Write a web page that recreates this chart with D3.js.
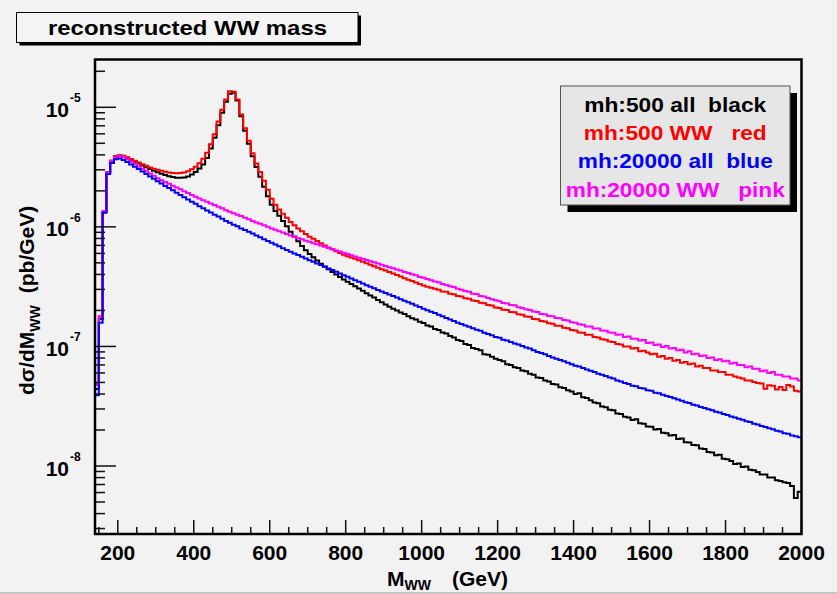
<!DOCTYPE html>
<html>
<head>
<meta charset="utf-8">
<script src="https://cdn.jsdelivr.net/npm/d3@7"></script>
<style>
  body { margin: 0; background: #f2f2f2; }
  svg { display: block; font-family: "Liberation Sans", Arial, Helvetica, sans-serif; font-weight: bold; }
</style>
</head>
<body>
<svg id="chart"></svg>
<script>
// histogram binning (GeV): 10 GeV bins from 140 to 2000
const binLow = 140;
const binWidth = 10;

// d sigma / d M_WW  (pb/GeV), one value per bin
const mh500All = [
  4.4e-8, 1.70e-7, 1.33e-6, 2.85e-6, 3.55e-6, 3.87e-6, 3.94e-6, 3.89e-6, 3.77e-6, 3.64e-6,
  3.51e-6, 3.38e-6, 3.26e-6, 3.15e-6, 3.04e-6, 2.94e-6, 2.86e-6, 2.78e-6, 2.71e-6, 2.65e-6,
  2.61e-6, 2.58e-6, 2.57e-6, 2.59e-6, 2.64e-6, 2.74e-6, 2.88e-6, 3.08e-6, 3.33e-6, 3.76e-6,
  4.52e-6, 5.56e-6, 7.08e-6, 9.0e-6, 1.11e-5, 1.30e-5, 1.32e-5, 1.14e-5, 8.41e-6, 6.38e-6,
  4.95e-6, 3.89e-6, 3.16e-6, 2.63e-6, 2.16e-6, 1.80e-6, 1.53e-6, 1.36e-6, 1.24e-6, 1.12e-6,
  1.01e-6, 9.1e-7, 8.32e-7, 7.59e-7, 6.92e-7, 6.37e-7, 5.92e-7, 5.56e-7, 5.22e-7, 4.92e-7,
  4.66e-7, 4.42e-7, 4.20e-7, 3.99e-7, 3.80e-7, 3.63e-7, 3.48e-7, 3.33e-7, 3.18e-7, 3.05e-7,
  2.92e-7, 2.79e-7, 2.67e-7, 2.56e-7, 2.45e-7, 2.34e-7, 2.24e-7, 2.15e-7, 2.07e-7, 2.00e-7,
  1.92e-7, 1.87e-7, 1.79e-7, 1.72e-7, 1.68e-7, 1.61e-7, 1.57e-7, 1.50e-7, 1.47e-7, 1.40e-7,
  1.37e-7, 1.31e-7, 1.28e-7, 1.22e-7, 1.19e-7, 1.13e-7, 1.11e-7, 1.05e-7, 1.03e-7, 9.7e-8,
  9.5e-8, 9.3e-8, 8.6e-8, 8.5e-8, 8.2e-8, 7.9e-8, 7.7e-8, 7.5e-8, 7.1e-8, 7.0e-8,
  6.7e-8, 6.6e-8, 6.3e-8, 6.2e-8, 5.9e-8, 5.8e-8, 5.5e-8, 5.45e-8, 5.2e-8, 5.1e-8,
  4.85e-8, 4.8e-8, 4.55e-8, 4.5e-8, 4.3e-8, 4.2e-8, 4.0e-8, 4.05e-8, 3.75e-8, 3.7e-8,
  3.55e-8, 3.4e-8, 3.35e-8, 3.15e-8, 3.1e-8, 2.95e-8, 2.92e-8, 2.75e-8, 2.72e-8, 2.58e-8,
  2.55e-8, 2.42e-8, 2.46e-8, 2.28e-8, 2.26e-8, 2.14e-8, 2.13e-8, 2.02e-8, 2.04e-8, 1.90e-8,
  1.88e-8, 1.80e-8, 1.82e-8, 1.68e-8, 1.70e-8, 1.58e-8, 1.57e-8, 1.50e-8, 1.49e-8, 1.40e-8,
  1.39e-8, 1.31e-8, 1.30e-8, 1.23e-8, 1.24e-8, 1.15e-8, 1.14e-8, 1.10e-8, 1.04e-8, 1.05e-8,
  9.8e-9, 9.9e-9, 9.3e-9, 9.2e-9, 8.9e-9, 8.5e-9, 8.5e-9, 8.0e-9, 8.0e-9, 7.6e-9,
  7.5e-9, 7.3e-9, 7.2e-9, 6.8e-9, 5.4e-9, 6.1e-9
];

const mh500WW = [
  4.8e-8, 1.78e-7, 1.35e-6, 2.88e-6, 3.59e-6, 3.91e-6, 3.98e-6, 3.94e-6, 3.82e-6, 3.70e-6,
  3.57e-6, 3.45e-6, 3.34e-6, 3.24e-6, 3.14e-6, 3.06e-6, 3.00e-6, 2.94e-6, 2.89e-6, 2.85e-6,
  2.82e-6, 2.81e-6, 2.82e-6, 2.85e-6, 2.92e-6, 3.03e-6, 3.18e-6, 3.40e-6, 3.72e-6, 4.17e-6,
  4.90e-6, 5.96e-6, 7.59e-6, 9.55e-6, 1.16e-5, 1.36e-5, 1.35e-5, 1.16e-5, 8.71e-6, 6.67e-6,
  5.25e-6, 4.12e-6, 3.39e-6, 2.88e-6, 2.43e-6, 2.04e-6, 1.72e-6, 1.53e-6, 1.40e-6, 1.29e-6,
  1.19e-6, 1.10e-6, 1.03e-6, 9.7e-7, 9.2e-7, 8.71e-7, 8.28e-7, 7.94e-7, 7.60e-7, 7.29e-7,
  7.00e-7, 6.73e-7, 6.49e-7, 6.25e-7, 6.04e-7, 5.85e-7, 5.69e-7, 5.55e-7, 5.41e-7, 5.27e-7,
  5.12e-7, 4.97e-7, 4.82e-7, 4.68e-7, 4.55e-7, 4.43e-7, 4.31e-7, 4.19e-7, 4.07e-7, 3.95e-7,
  3.84e-7, 3.72e-7, 3.61e-7, 3.52e-7, 3.42e-7, 3.33e-7, 3.24e-7, 3.16e-7, 3.10e-7, 3.03e-7,
  2.98e-7, 2.88e-7, 2.86e-7, 2.76e-7, 2.73e-7, 2.64e-7, 2.62e-7, 2.53e-7, 2.50e-7, 2.42e-7,
  2.40e-7, 2.32e-7, 2.30e-7, 2.22e-7, 2.20e-7, 2.12e-7, 2.10e-7, 2.03e-7, 2.02e-7, 1.94e-7,
  1.93e-7, 1.86e-7, 1.84e-7, 1.78e-7, 1.77e-7, 1.70e-7, 1.69e-7, 1.63e-7, 1.62e-7, 1.56e-7,
  1.55e-7, 1.49e-7, 1.49e-7, 1.43e-7, 1.42e-7, 1.37e-7, 1.36e-7, 1.31e-7, 1.30e-7, 1.25e-7,
  1.25e-7, 1.20e-7, 1.19e-7, 1.15e-7, 1.14e-7, 1.10e-7, 1.09e-7, 1.05e-7, 1.04e-7, 1.00e-7,
  1.00e-7, 9.6e-8, 9.7e-8, 9.1e-8, 9.2e-8, 8.9e-8, 8.6e-8, 8.7e-8, 8.2e-8, 8.3e-8,
  7.9e-8, 8.0e-8, 7.6e-8, 7.7e-8, 7.3e-8, 7.4e-8, 7.1e-8, 7.2e-8, 6.8e-8, 6.9e-8,
  6.6e-8, 6.6e-8, 6.3e-8, 6.3e-8, 6.1e-8, 6.1e-8, 5.8e-8, 5.8e-8, 5.6e-8, 5.5e-8,
  5.4e-8, 5.2e-8, 5.2e-8, 5.05e-8, 4.95e-8, 4.9e-8, 4.42e-8, 4.73e-8, 4.68e-8, 4.37e-8,
  4.57e-8, 4.32e-8, 4.76e-8, 4.62e-8, 4.27e-8, 4.19e-8
];

const mh20000All = [
  3.9e-8, 1.58e-7, 1.31e-6, 2.77e-6, 3.42e-6, 3.67e-6, 3.73e-6, 3.63e-6, 3.48e-6, 3.33e-6,
  3.18e-6, 3.04e-6, 2.90e-6, 2.77e-6, 2.64e-6, 2.52e-6, 2.41e-6, 2.30e-6, 2.20e-6, 2.11e-6,
  2.02e-6, 1.93e-6, 1.85e-6, 1.77e-6, 1.69e-6, 1.62e-6, 1.56e-6, 1.49e-6, 1.43e-6, 1.37e-6,
  1.32e-6, 1.26e-6, 1.22e-6, 1.17e-6, 1.12e-6, 1.08e-6, 1.04e-6, 1.01e-6, 9.7e-7, 9.4e-7,
  9.1e-7, 8.8e-7, 8.45e-7, 8.17e-7, 7.89e-7, 7.62e-7, 7.36e-7, 7.11e-7, 6.87e-7, 6.64e-7,
  6.41e-7, 6.19e-7, 6.00e-7, 5.81e-7, 5.62e-7, 5.44e-7, 5.27e-7, 5.11e-7, 4.94e-7, 4.79e-7,
  4.63e-7, 4.49e-7, 4.35e-7, 4.21e-7, 4.07e-7, 3.94e-7, 3.82e-7, 3.70e-7, 3.58e-7, 3.47e-7,
  3.36e-7, 3.25e-7, 3.16e-7, 3.06e-7, 2.97e-7, 2.88e-7, 2.80e-7, 2.72e-7, 2.64e-7, 2.56e-7,
  2.48e-7, 2.41e-7, 2.34e-7, 2.27e-7, 2.20e-7, 2.14e-7, 2.07e-7, 2.01e-7, 1.95e-7, 1.90e-7,
  1.84e-7, 1.79e-7, 1.73e-7, 1.68e-7, 1.63e-7, 1.58e-7, 1.54e-7, 1.50e-7, 1.46e-7, 1.42e-7,
  1.38e-7, 1.35e-7, 1.30e-7, 1.27e-7, 1.24e-7, 1.20e-7, 1.18e-7, 1.14e-7, 1.12e-7, 1.09e-7,
  1.06e-7, 1.04e-7, 1.01e-7, 9.8e-8, 9.6e-8, 9.3e-8, 9.0e-8, 8.8e-8, 8.6e-8, 8.3e-8,
  8.1e-8, 7.9e-8, 7.7e-8, 7.5e-8, 7.3e-8, 7.1e-8, 6.9e-8, 6.8e-8, 6.6e-8, 6.4e-8,
  6.25e-8, 6.1e-8, 5.9e-8, 5.8e-8, 5.65e-8, 5.5e-8, 5.4e-8, 5.2e-8, 5.1e-8, 4.95e-8,
  4.85e-8, 4.7e-8, 4.65e-8, 4.5e-8, 4.45e-8, 4.3e-8, 4.25e-8, 4.1e-8, 4.05e-8, 3.95e-8,
  3.85e-8, 3.78e-8, 3.68e-8, 3.6e-8, 3.52e-8, 3.42e-8, 3.36e-8, 3.26e-8, 3.21e-8, 3.12e-8,
  3.06e-8, 2.98e-8, 2.93e-8, 2.84e-8, 2.80e-8, 2.72e-8, 2.67e-8, 2.60e-8, 2.55e-8, 2.48e-8,
  2.44e-8, 2.37e-8, 2.33e-8, 2.26e-8, 2.22e-8, 2.16e-8, 2.12e-8, 2.07e-8, 2.03e-8, 1.97e-8,
  1.94e-8, 1.88e-8, 1.86e-8, 1.80e-8, 1.77e-8, 1.74e-8
];

const mh20000WW = [
  4.8e-8, 1.78e-7, 1.35e-6, 2.85e-6, 3.53e-6, 3.82e-6, 3.89e-6, 3.85e-6, 3.67e-6, 3.51e-6,
  3.35e-6, 3.20e-6, 3.06e-6, 2.92e-6, 2.79e-6, 2.67e-6, 2.55e-6, 2.45e-6, 2.37e-6, 2.29e-6,
  2.21e-6, 2.13e-6, 2.06e-6, 1.99e-6, 1.92e-6, 1.85e-6, 1.79e-6, 1.73e-6, 1.67e-6, 1.62e-6,
  1.57e-6, 1.52e-6, 1.47e-6, 1.43e-6, 1.38e-6, 1.34e-6, 1.30e-6, 1.26e-6, 1.23e-6, 1.19e-6,
  1.16e-6, 1.12e-6, 1.09e-6, 1.06e-6, 1.03e-6, 1.00e-6, 9.7e-7, 9.46e-7, 9.2e-7, 8.95e-7,
  8.71e-7, 8.47e-7, 8.26e-7, 8.05e-7, 7.87e-7, 7.67e-7, 7.50e-7, 7.31e-7, 7.14e-7, 6.97e-7,
  6.81e-7, 6.65e-7, 6.50e-7, 6.35e-7, 6.21e-7, 6.07e-7, 5.93e-7, 5.79e-7, 5.66e-7, 5.53e-7,
  5.41e-7, 5.28e-7, 5.16e-7, 5.05e-7, 4.93e-7, 4.82e-7, 4.71e-7, 4.60e-7, 4.50e-7, 4.40e-7,
  4.32e-7, 4.20e-7, 4.11e-7, 4.02e-7, 3.93e-7, 3.81e-7, 3.76e-7, 3.66e-7, 3.58e-7, 3.49e-7,
  3.44e-7, 3.33e-7, 3.27e-7, 3.18e-7, 3.14e-7, 3.04e-7, 2.98e-7, 2.91e-7, 2.86e-7, 2.76e-7,
  2.74e-7, 2.64e-7, 2.61e-7, 2.54e-7, 2.48e-7, 2.43e-7, 2.39e-7, 2.31e-7, 2.29e-7, 2.22e-7,
  2.21e-7, 2.13e-7, 2.10e-7, 2.05e-7, 2.02e-7, 1.96e-7, 1.94e-7, 1.87e-7, 1.86e-7, 1.80e-7,
  1.79e-7, 1.73e-7, 1.72e-7, 1.66e-7, 1.65e-7, 1.59e-7, 1.58e-7, 1.53e-7, 1.52e-7, 1.47e-7,
  1.47e-7, 1.41e-7, 1.41e-7, 1.36e-7, 1.35e-7, 1.31e-7, 1.30e-7, 1.25e-7, 1.26e-7, 1.20e-7,
  1.21e-7, 1.16e-7, 1.16e-7, 1.12e-7, 1.13e-7, 1.07e-7, 1.08e-7, 1.03e-7, 1.04e-7, 9.9e-8,
  1.01e-7, 9.6e-8, 9.7e-8, 9.3e-8, 9.4e-8, 8.9e-8, 9.1e-8, 8.6e-8, 8.7e-8, 8.3e-8,
  8.4e-8, 8.0e-8, 8.1e-8, 7.7e-8, 7.8e-8, 7.5e-8, 7.6e-8, 7.2e-8, 7.3e-8, 7.0e-8,
  7.0e-8, 6.7e-8, 6.8e-8, 6.5e-8, 6.5e-8, 6.2e-8, 6.3e-8, 6.0e-8, 6.1e-8, 5.8e-8,
  5.8e-8, 5.6e-8, 5.6e-8, 5.4e-8, 5.4e-8, 5.2e-8
];

const seriesColors = ["#000000", "#ff0000", "#ff00ff", "#0000ff"];
const legendLabels = ["mh:500 all  black", "mh:500 WW   red", "mh:20000 all  blue", "mh:20000 WW   pink"];
const legendColors = ["#000000", "#ff0000", "#0000ff", "#ff00ff"];
const legendWidths = [182, 183, 195, 219];
const xTickLabels = [200, 400, 600, 800, 1000, 1200, 1400, 1600, 1800, 2000];
const yTickPowers = [-8, -7, -6, -5];
const titleText = "reconstructed WW mass";

const width = 837, height = 594;
const frame = { left: 95, right: 801.5, top: 59.5, bottom: 534 };

const svg = d3.select("#chart")
  .attr("width", width)
  .attr("height", height);

svg.append("rect")
  .attr("width", width)
  .attr("height", height)
  .attr("fill", "#f2f2f2");

// canvas bottom edge
svg.append("rect")
  .attr("x", 0).attr("y", 592)
  .attr("width", width).attr("height", 2)
  .attr("fill", "#c4c4c4");

// scales
const x = d3.scaleLinear().domain([140, 2000]).range([frame.left, frame.right]);
const y = d3.scaleLog().domain([2.7e-9, 2.51e-5]).range([frame.bottom, frame.top]);

svg.append("clipPath").attr("id", "frameClip")
  .append("rect")
  .attr("x", frame.left).attr("y", frame.top)
  .attr("width", frame.right - frame.left)
  .attr("height", frame.bottom - frame.top);

// histograms
const line = d3.line()
  .x(d => x(d[0]))
  .y(d => y(d[1]))
  .curve(d3.curveStepAfter);

const histograms = [mh500All, mh500WW, mh20000WW, mh20000All];

const plot = svg.append("g").attr("clip-path", "url(#frameClip)");
histograms.forEach((vals, k) => {
  const pts = vals.map((v, i) => [binLow + i * binWidth, v]);
  pts.push([binLow + vals.length * binWidth, vals[vals.length - 1]]);
  plot.append("path")
    .attr("d", line(pts))
    .attr("fill", "none")
    .attr("stroke", seriesColors[k])
    .attr("stroke-width", 2)
    .attr("stroke-linejoin", "miter");
});

// y ticks (inside the frame)
const yTicks = [];
for (let p = -9; p <= -5; p++) {
  for (let m = 1; m <= 9; m++) {
    const v = m * Math.pow(10, p);
    if (v >= y.domain()[0] && v <= y.domain()[1]) yTicks.push({ v, major: m === 1 });
  }
}
svg.append("g")
  .selectAll("line")
  .data(yTicks)
  .join("line")
  .attr("x1", frame.left)
  .attr("x2", d => frame.left + (d.major ? 21 : 10))
  .attr("y1", d => y(d.v))
  .attr("y2", d => y(d.v))
  .attr("stroke", "#111")
  .attr("stroke-width", 1.5);

// x ticks (inside the frame)
const xTicks = d3.range(150, 2001, 50).map(v => ({ v, major: v % 200 === 0 }));
svg.append("g")
  .selectAll("line")
  .data(xTicks)
  .join("line")
  .attr("x1", d => x(d.v))
  .attr("x2", d => x(d.v))
  .attr("y1", frame.bottom)
  .attr("y2", d => frame.bottom - (d.major ? 14 : 7))
  .attr("stroke", "#111")
  .attr("stroke-width", 1.5);

// frame
svg.append("rect")
  .attr("x", frame.left)
  .attr("y", frame.top)
  .attr("width", frame.right - frame.left)
  .attr("height", frame.bottom - frame.top)
  .attr("fill", "none")
  .attr("stroke", "#000")
  .attr("stroke-width", 2.5);

// x tick labels
svg.append("g")
  .selectAll("text")
  .data(xTickLabels)
  .join("text")
  .attr("x", d => x(d))
  .attr("y", 560)
  .attr("text-anchor", "middle")
  .style("font-size", "21px")
  .text(d => d);

// y tick labels 10^n
const yLab = svg.append("g");
yLab.selectAll("text.base")
  .data(yTickPowers)
  .join("text")
  .attr("class", "base")
  .attr("x", 69)
  .attr("y", d => y(Math.pow(10, d)) + 9.5)
  .attr("text-anchor", "end")
  .style("font-size", "21px")
  .text("10");
yLab.selectAll("text.exp")
  .data(yTickPowers)
  .join("text")
  .attr("class", "exp")
  .attr("x", 70)
  .attr("y", d => y(Math.pow(10, d)) - 5)
  .style("font-size", "12px")
  .text(d => "-" + Math.abs(d));

// axis titles
const xTitle = svg.append("text")
  .attr("x", 387)
  .attr("y", 586)
  .style("font-size", "21px");
xTitle.append("tspan").text("M");
xTitle.append("tspan").attr("dy", 4).style("font-size", "14px").text("WW");
xTitle.append("tspan").attr("x", 452).attr("dy", -4).text("(GeV)");

const yTitle = svg.append("text")
  .attr("transform", "translate(34,395) rotate(-90)")
  .style("font-size", "21px");
yTitle.append("tspan").text("d\u03c3/dM");
yTitle.append("tspan").attr("dy", 6).style("font-size", "14px").text("WW");
yTitle.append("tspan").attr("dx", 12).attr("dy", -6).text("(pb/GeV)");

// title box
const tb = { x: 16.5, y: 12.5, w: 341.5, h: 30 };
svg.append("rect")
  .attr("x", tb.x + 3).attr("y", tb.y + 3)
  .attr("width", tb.w).attr("height", tb.h)
  .attr("fill", "#000");
svg.append("rect")
  .attr("x", tb.x).attr("y", tb.y)
  .attr("width", tb.w).attr("height", tb.h)
  .attr("fill", "#f4f4f4")
  .attr("stroke", "#000")
  .attr("stroke-width", 1);
svg.append("text")
  .attr("x", 48)
  .attr("y", 34.5)
  .attr("textLength", 279)
  .attr("lengthAdjust", "spacingAndGlyphs")
  .style("font-size", "21px")
  .text(titleText);

// legend
const lb = { x: 560.5, y: 86, w: 229.5, h: 119 };
svg.append("rect")
  .attr("x", lb.x + 7).attr("y", lb.y + 7)
  .attr("width", lb.w).attr("height", lb.h)
  .attr("fill", "#000");
svg.append("rect")
  .attr("x", lb.x).attr("y", lb.y)
  .attr("width", lb.w).attr("height", lb.h)
  .attr("fill", "#e6e6e6")
  .attr("stroke", "#555")
  .attr("stroke-width", 1);
svg.append("g")
  .selectAll("text")
  .data(legendLabels)
  .join("text")
  .attr("x", (d, i) => lb.x + lb.w / 2 - legendWidths[i] / 2)
  .attr("y", (d, i) => 111.5 + i * 28.4)
  .attr("textLength", (d, i) => legendWidths[i])
  .attr("lengthAdjust", "spacingAndGlyphs")
  .attr("fill", (d, i) => legendColors[i])
  .style("font-size", "21px")
  .style("white-space", "pre")
  .text(d => d);
</script>
</body>
</html>
